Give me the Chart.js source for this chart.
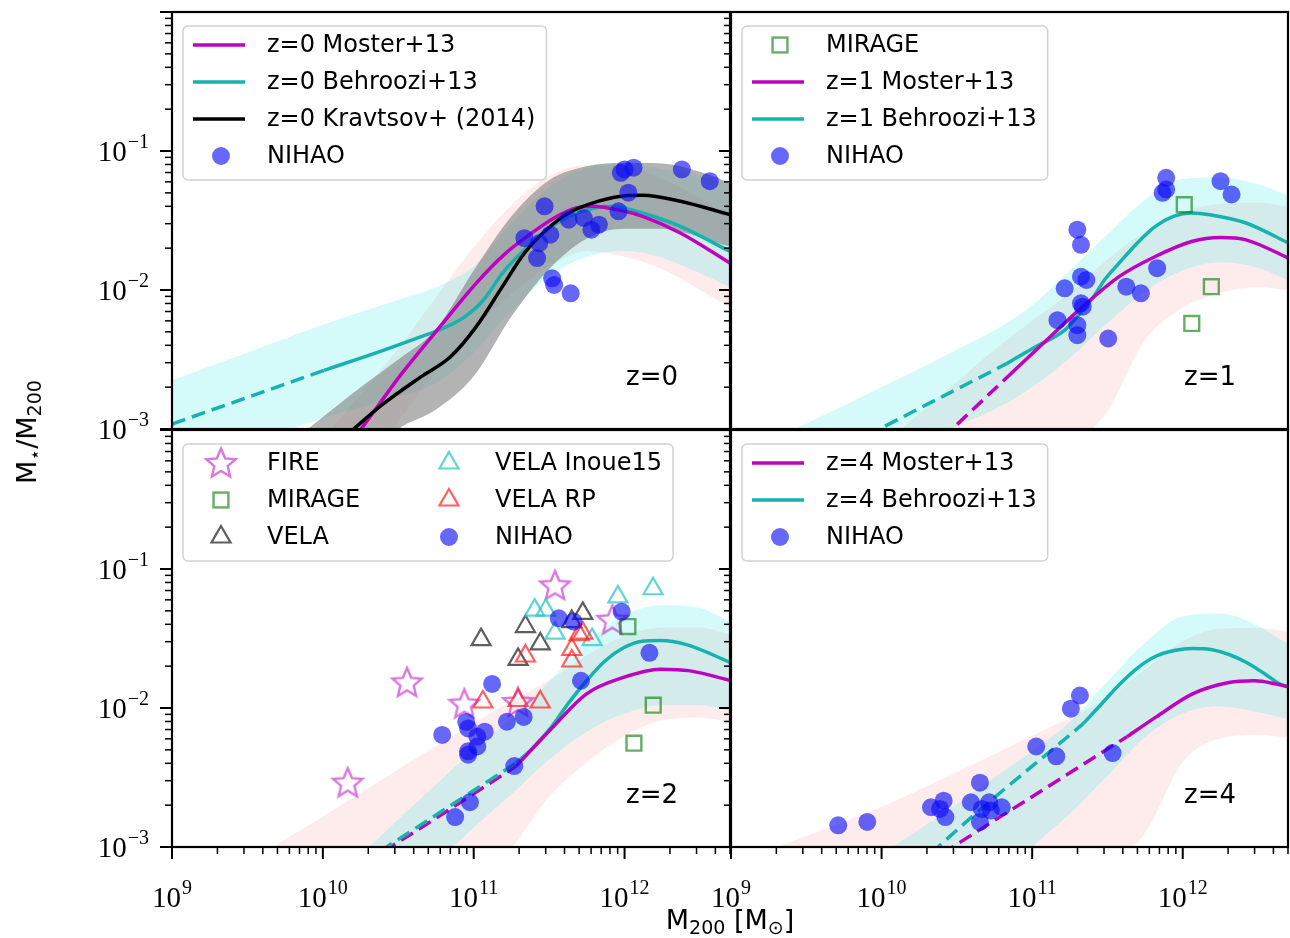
<!DOCTYPE html>
<html>
<head>
<meta charset="utf-8">
<script src="https://cdn.jsdelivr.net/npm/chart.js@4.4.0/dist/chart.umd.min.js"></script>
<style>
  html, body { margin: 0; padding: 0; background: #fff; }
  #wrap { position: relative; width: 1290px; height: 938px; overflow: hidden; }
  #wrap canvas { position: absolute; left: 0; top: 0; }
  .ttl { position: absolute; font-family: 'DejaVu Sans', sans-serif; font-size: 27px; color: #000; white-space: nowrap; }
  .ttl sub { font-size: 19px; vertical-align: -5px; }
  #ylab { left: 28px; top: 432px; transform: translate(-50%, -50%) rotate(-90deg); }
  #xlab { left: 730px; top: 921px; transform: translate(-50%, -50%); }
</style>
</head>
<body>
<div id="wrap">
  <canvas id="c0" width="1290" height="938"></canvas>
  <canvas id="c1" width="1290" height="938"></canvas>
  <canvas id="c2" width="1290" height="938"></canvas>
  <canvas id="c3" width="1290" height="938"></canvas>
  <div class="ttl" id="ylab">M<sub>⋆</sub>/M<sub>200</sub></div>
  <div class="ttl" id="xlab">M<sub>200</sub> [M<sub>⊙</sub>]</div>
</div>
<script>
// all values are log10(M200 / Msun), log10(M* / M200)
const MASS_MIN = 1e9, MASS_MAX = 5e12;
const FRAC_MIN = 1e-3, FRAC_MAX = 1;

// ---- z = 0 ----
const mosterZ0 = [[10.15,-3.15],[10.254,-3.0],[10.524,-2.60],[10.795,-2.24],[11.016,-1.952],[11.213,-1.735],[11.385,-1.59],[11.533,-1.482],[11.68,-1.41],[11.78,-1.398],[12.0,-1.434],[12.12,-1.47],[12.37,-1.59],[12.70,-1.807]];
const behrooziZ0Dash = [[9.0,-2.964],[10.008,-2.578]];
const behrooziZ0 = [[10.008,-2.578],[10.40,-2.434],[10.647,-2.337],[10.795,-2.277],[10.94,-2.193],[11.065,-2.072],[11.19,-1.88],[11.336,-1.711],[11.483,-1.566],[11.63,-1.47],[11.78,-1.417],[11.877,-1.398],[12.0,-1.41],[12.12,-1.446],[12.37,-1.542],[12.70,-1.723]];
const kravtsovZ0 = [[10.1,-3.1],[10.205,-3.0],[10.40,-2.82],[10.647,-2.627],[10.844,-2.482],[11.016,-2.265],[11.19,-1.976],[11.336,-1.735],[11.483,-1.566],[11.63,-1.446],[11.828,-1.361],[12.025,-1.32],[12.12,-1.318],[12.37,-1.361],[12.70,-1.458]];
// bands: [logM, low, high]
const mosterBandZ0 = [[9.9,-3.85,-3.2],[10.25,-3.3,-2.75],[10.5,-2.95,-2.42],[10.75,-2.58,-2.05],[11.0,-2.28,-1.69],[11.25,-2.03,-1.39],[11.5,-1.83,-1.18],[11.75,-1.72,-1.10],[12.0,-1.76,-1.11],[12.25,-1.85,-1.2],[12.5,-2.0,-1.34],[12.7,-2.13,-1.48]];
const behrooziBandZ0 = [[9.0,-3.35,-2.65],[9.5,-3.12,-2.45],[10.0,-2.92,-2.25],[10.5,-2.77,-2.07],[10.75,-2.67,-1.98],[11.0,-2.45,-1.83],[11.25,-2.15,-1.52],[11.5,-1.9,-1.26],[11.75,-1.76,-1.12],[12.0,-1.72,-1.09],[12.25,-1.77,-1.13],[12.5,-1.88,-1.18],[12.7,-1.98,-1.23]];
const kravtsovBandZ0 = [[9.9,-3.5,-3.0],[10.25,-3.25,-2.70],[10.5,-3.0,-2.50],[10.75,-2.86,-2.28],[11.0,-2.62,-1.86],[11.25,-2.19,-1.47],[11.5,-1.85,-1.21],[11.75,-1.63,-1.11],[12.0,-1.56,-1.085],[12.25,-1.56,-1.09],[12.5,-1.62,-1.15],[12.7,-1.69,-1.23]];
const nihaoZ0 = [[11.47,-1.398],[11.336,-1.627],[11.434,-1.663],[11.42,-1.77],[11.508,-1.602],[11.63,-1.494],[11.73,-1.482],[11.78,-1.566],[11.83,-1.53],[11.96,-1.434],[11.975,-1.157],[12.0,-1.133],[12.06,-1.12],[12.025,-1.30],[11.52,-1.916],[11.533,-1.964],[11.643,-2.024],[12.38,-1.133],[12.565,-1.217]];

// ---- z = 1 ----
const mosterZ1Dash = [[10.40,-3.07],[10.469,-3.0],[10.806,-2.656]];
const mosterZ1 = [[10.806,-2.656],[11.095,-2.361],[11.336,-2.12],[11.577,-1.904],[11.818,-1.759],[12.059,-1.651],[12.25,-1.622],[12.42,-1.639],[12.704,-1.771]];
const behrooziZ1Dash = [[9.9,-3.05],[9.987,-3.0],[10.83,-2.53]];
const behrooziZ1 = [[10.83,-2.53],[11.02,-2.41],[11.216,-2.289],[11.336,-2.145],[11.408,-2.048],[11.48,-1.928],[11.577,-1.807],[11.697,-1.663],[11.818,-1.542],[11.938,-1.47],[12.059,-1.446],[12.18,-1.458],[12.42,-1.518],[12.704,-1.663]];
const mosterBandZ1 = [[10.0,-4.3,-3.12],[10.5,-3.8,-2.66],[10.75,-3.55,-2.43],[11.0,-3.35,-2.22],[11.25,-3.15,-2.02],[11.5,-2.87,-1.78],[11.75,-2.36,-1.58],[12.0,-2.13,-1.44],[12.25,-2.02,-1.38],[12.5,-1.98,-1.37],[12.7,-2.0,-1.40]];
const behrooziBandZ1 = [[9.0,-3.8,-3.22],[9.5,-3.52,-2.96],[10.0,-3.25,-2.70],[10.5,-2.98,-2.43],[10.75,-2.86,-2.29],[11.0,-2.70,-2.11],[11.25,-2.49,-1.86],[11.5,-2.24,-1.60],[11.75,-2.01,-1.35],[12.0,-1.86,-1.20],[12.25,-1.80,-1.19],[12.5,-1.84,-1.24],[12.7,-1.93,-1.32]];
const mirageZ1 = [[12.01,-1.386],[12.19,-1.976],[12.06,-2.241]];
const nihaoZ1 = [[11.30,-1.566],[11.324,-1.675],[11.324,-1.904],[11.36,-1.928],[11.216,-1.988],[11.324,-2.096],[11.336,-2.12],[11.168,-2.217],[11.30,-2.253],[11.30,-2.325],[11.505,-2.349],[11.625,-1.976],[11.722,-2.024],[11.83,-1.843],[11.89,-1.193],[11.866,-1.301],[11.89,-1.277],[12.251,-1.217],[12.324,-1.313]];

// ---- z = 2 ----
const mosterZ2Dash = [[10.40,-3.03],[10.447,-3.0],[11.282,-2.418]];
const mosterZ2 = [[11.282,-2.418],[11.527,-2.135],[11.748,-1.898],[11.993,-1.78],[12.238,-1.721],[12.435,-1.733],[12.705,-1.804]];
const behrooziZ2Dash = [[10.38,-3.03],[10.423,-3.0],[11.282,-2.395]];
const behrooziZ2 = [[11.282,-2.395],[11.38,-2.30],[11.50,-2.158],[11.625,-1.97],[11.748,-1.804],[11.87,-1.662],[11.993,-1.567],[12.116,-1.52],[12.238,-1.515],[12.41,-1.544],[12.705,-1.674]];
const mosterBandZ2 = [[9.5,-4.4,-3.11],[10.0,-4.0,-2.78],[10.5,-3.65,-2.44],[11.0,-3.3,-2.11],[11.25,-3.01,-1.95],[11.5,-2.64,-1.80],[11.75,-2.39,-1.62],[12.0,-2.20,-1.48],[12.25,-2.09,-1.42],[12.5,-2.07,-1.42],[12.7,-2.10,-1.47]];
const behrooziBandZ2 = [[10.0,-3.9,-3.2],[10.3,-3.6,-3.0],[10.5,-3.4,-2.8],[10.75,-3.12,-2.55],[11.0,-2.86,-2.3],[11.25,-2.62,-2.07],[11.5,-2.37,-1.81],[11.75,-2.17,-1.53],[12.0,-2.04,-1.33],[12.25,-1.98,-1.26],[12.5,-1.98,-1.28],[12.7,-2.02,-1.38]];
const fireZ2 = [[10.165,-2.537],[10.558,-1.816],[10.938,-1.969],[11.294,-1.957],[11.539,-1.118],[11.919,-1.366]];
const mirageZ2 = [[12.022,-1.414],[12.19,-1.98],[12.062,-2.253]];
const velaZ2 = [[11.049,-1.508],[11.343,-1.414],[11.441,-1.539],[11.294,-1.65],[11.65,-1.378],[11.723,-1.319]];
const velaInoueZ2 = [[11.404,-1.296],[11.478,-1.296],[11.539,-1.461],[11.785,-1.508],[11.956,-1.201],[12.189,-1.142]];
const velaRpZ2 = [[11.061,-1.957],[11.294,-1.946],[11.441,-1.957],[11.343,-1.626],[11.65,-1.579],[11.65,-1.662],[11.699,-1.473],[11.723,-1.461]];
const nihaoZ2 = [[10.791,-2.194],[10.95,-2.10],[10.963,-2.147],[11.024,-2.206],[11.073,-2.17],[11.024,-2.277],[10.963,-2.312],[10.963,-2.336],[11.122,-1.827],[11.22,-2.099],[11.331,-2.064],[11.269,-2.418],[10.975,-2.678],[10.877,-2.785],[11.564,-1.355],[11.662,-1.378],[11.711,-1.804],[11.981,-1.307],[12.165,-1.603]];

// ---- z = 4 ----
const mosterZ4Dash = [[10.40,-3.05],[10.472,-3.0],[11.631,-2.206]];
const mosterZ4 = [[11.631,-2.206],[11.824,-2.064],[12.065,-1.898],[12.307,-1.816],[12.476,-1.804],[12.62,-1.827],[12.712,-1.851]];
const behrooziZ4Dash = [[10.33,-3.05],[10.376,-3.0],[11.341,-2.111]];
const behrooziZ4 = [[11.341,-2.111],[11.462,-1.969],[11.583,-1.827],[11.703,-1.709],[11.824,-1.626],[11.945,-1.586],[12.065,-1.572],[12.186,-1.579],[12.307,-1.615],[12.427,-1.674],[12.548,-1.757],[12.645,-1.827],[12.712,-1.851]];
const mosterBandZ4 = [[9.0,-4.5,-3.13],[9.5,-4.2,-2.92],[10.0,-3.9,-2.71],[10.5,-3.6,-2.46],[11.0,-3.4,-2.20],[11.25,-3.3,-2.07],[11.5,-3.15,-1.93],[11.75,-2.90,-1.72],[12.0,-2.39,-1.52],[12.25,-2.22,-1.43],[12.5,-2.195,-1.425],[12.7,-2.215,-1.45]];
const behrooziBandZ4 = [[10.0,-3.85,-3.05],[10.5,-3.5,-2.69],[10.75,-3.25,-2.50],[11.0,-3.0,-2.31],[11.25,-2.76,-2.10],[11.5,-2.49,-1.81],[11.75,-2.21,-1.53],[12.0,-2.04,-1.34],[12.25,-1.99,-1.32],[12.5,-2.03,-1.41],[12.7,-2.08,-1.54]];
const nihaoZ4 = [[9.712,-2.844],[9.905,-2.82],[10.328,-2.714],[10.412,-2.667],[10.388,-2.726],[10.424,-2.785],[10.593,-2.678],[10.653,-2.537],[10.665,-2.726],[10.714,-2.678],[10.726,-2.738],[10.798,-2.714],[10.653,-2.82],[11.027,-2.277],[11.16,-2.348],[11.257,-2.005],[11.317,-1.91],[11.534,-2.324]];

// ---- styles ----
const W = 1290, H = 938;
const C_MOSTER = '#bf00bf', C_BEHROOZI = '#16b3ae', C_KRAV = '#000000';
const BAND_MOSTER = 'rgba(240,0,0,0.075)', BAND_BEHROOZI = 'rgba(0,225,225,0.17)', BAND_KRAV = 'rgba(128,128,128,0.6)';
const LEG_FONT = '24px "DejaVu Sans", sans-serif';
const Z_FONT = '26px "DejaVu Sans", sans-serif';
const TICK_FONT = '29px "Liberation Serif", serif';
const EXP_FONT = '20px "Liberation Serif", serif';

function starImage(color) {
  const c = document.createElement('canvas');
  c.width = c.height = 36;
  const g = c.getContext('2d');
  g.strokeStyle = color; g.lineWidth = 2.4; g.lineJoin = 'miter';
  g.beginPath();
  for (let i = 0; i < 10; i++) {
    const r = i % 2 ? 7 : 15.5;
    const ang = -Math.PI / 2 + i * Math.PI / 5;
    const px = 18 + r * Math.cos(ang), py = 19 + r * Math.sin(ang);
    i ? g.lineTo(px, py) : g.moveTo(px, py);
  }
  g.closePath(); g.stroke();
  return c;
}

const MARK = {
  'NIHAO':        { pointStyle: 'circle', pointRadius: 9, pointBackgroundColor: 'rgba(10,10,245,0.62)', pointBorderColor: 'rgba(0,0,0,0)', pointBorderWidth: 0, order: 1 },
  'VELA RP':      { pointStyle: 'triangle', pointRadius: 11, pointBackgroundColor: 'rgba(0,0,0,0)', pointBorderColor: 'rgba(255,30,30,0.7)', pointBorderWidth: 2.2, order: 2 },
  'VELA Inoue15': { pointStyle: 'triangle', pointRadius: 11, pointBackgroundColor: 'rgba(0,0,0,0)', pointBorderColor: 'rgba(40,200,200,0.75)', pointBorderWidth: 2.2, order: 3 },
  'VELA':         { pointStyle: 'triangle', pointRadius: 11, pointBackgroundColor: 'rgba(0,0,0,0)', pointBorderColor: 'rgba(40,40,40,0.75)', pointBorderWidth: 2.2, order: 4 },
  'MIRAGE':       { pointStyle: 'rect', pointRadius: 10.5, pointBackgroundColor: 'rgba(0,0,0,0)', pointBorderColor: 'rgba(0,120,0,0.6)', pointBorderWidth: 2.4, order: 5 },
  'FIRE':         { pointStyle: starImage('rgba(190,30,200,0.6)'), pointRadius: 15, pointBackgroundColor: 'rgba(0,0,0,0)', pointBorderColor: 'rgba(190,30,200,0.6)', pointBorderWidth: 2, order: 6 }
};

const pts = arr => arr.map(([m, f]) => ({ x: 10 ** m, y: 10 ** f }));

function markerSet(label, data) {
  return Object.assign({ label, data: pts(data), showLine: false, inLegend: true }, MARK[label]);
}
function lineSet(label, data, color, dashed, order) {
  return {
    label, data: pts(data), borderColor: color, borderWidth: 3.5, borderDash: dashed ? [14, 7] : [],
    pointRadius: 0, fill: false, order, cubicInterpolationMode: 'monotone', inLegend: !dashed
  };
}
function addBand(list, band, color, order) {
  const lo = list.length;
  list.push({ data: pts(band.map(b => [b[0], b[1]])), borderColor: 'rgba(0,0,0,0)', borderWidth: 0, pointRadius: 0, fill: false, order, cubicInterpolationMode: 'monotone' });
  list.push({ data: pts(band.map(b => [b[0], b[2]])), borderColor: 'rgba(0,0,0,0)', borderWidth: 0, pointRadius: 0, fill: { target: lo }, backgroundColor: color, order, cubicInterpolationMode: 'monotone' });
}

function legendMarker(ctx, d, x, y) {
  const st = d.pointStyle, r = d.pointRadius;
  ctx.save();
  ctx.fillStyle = d.pointBackgroundColor; ctx.strokeStyle = d.pointBorderColor; ctx.lineWidth = d.pointBorderWidth;
  if (typeof st === 'object') {
    ctx.drawImage(st, x - st.width / 2, y - st.height / 2);
  } else if (st === 'circle') {
    ctx.beginPath(); ctx.arc(x, y, r, 0, Math.PI * 2); ctx.fill();
  } else if (st === 'rect') {
    const s = r * Math.SQRT1_2;
    ctx.strokeRect(x - s, y - s, 2 * s, 2 * s);
  } else if (st === 'triangle') {
    ctx.beginPath();
    for (let i = 0; i < 3; i++) {
      const ang = i * 2 * Math.PI / 3;
      const px = x + Math.sin(ang) * r, py = y - Math.cos(ang) * r;
      i ? ctx.lineTo(px, py) : ctx.moveTo(px, py);
    }
    ctx.closePath(); ctx.stroke();
  }
  ctx.restore();
}

function roundRectPath(ctx, x0, y0, x1, y1, rad) {
  ctx.beginPath();
  ctx.moveTo(x0 + rad, y0);
  ctx.arcTo(x1, y0, x1, y1, rad);
  ctx.arcTo(x1, y1, x0, y1, rad);
  ctx.arcTo(x0, y1, x0, y0, rad);
  ctx.arcTo(x0, y0, x1, y0, rad);
  ctx.closePath();
}

function drawLegend(ctx, chart, a, o) {
  const items = o.legend.map(lbl => chart.data.datasets.find(d => d.label === lbl && d.inLegend));
  const rows = Math.ceil(items.length / o.cols);
  const rowH = 37, firstY = a.top + 33;
  ctx.font = LEG_FONT;
  let right = 0;
  items.forEach((d, i) => {
    const c = Math.floor(i / rows);
    right = Math.max(right, a.left + 95 + c * o.colStep + ctx.measureText(d.label).width);
  });
  roundRectPath(ctx, a.left + 11, firstY - 19, right + 11, firstY + (rows - 1) * rowH + 24, 5);
  ctx.fillStyle = 'rgba(255,255,255,0.8)'; ctx.fill();
  ctx.strokeStyle = '#d2d2d2'; ctx.lineWidth = 1.5; ctx.stroke();
  items.forEach((d, i) => {
    const c = Math.floor(i / rows), r = i % rows;
    const cx = a.left + c * o.colStep, cy = firstY + r * rowH;
    if (d.showLine === false) {
      legendMarker(ctx, d, cx + 49, cy);
    } else {
      ctx.strokeStyle = d.borderColor; ctx.lineWidth = d.borderWidth; ctx.setLineDash([]);
      ctx.beginPath(); ctx.moveTo(cx + 21, cy); ctx.lineTo(cx + 73, cy); ctx.stroke();
    }
    ctx.fillStyle = '#000'; ctx.font = LEG_FONT; ctx.textAlign = 'left'; ctx.textBaseline = 'middle';
    ctx.fillText(d.label, cx + 95, cy + 1);
  });
}

function drawPow(ctx, exp, x, baseline, align) {
  ctx.font = TICK_FONT; const w1 = ctx.measureText('10').width;
  ctx.font = EXP_FONT; const w2 = ctx.measureText(exp).width;
  const left = align === 'right' ? x - w1 - w2 - 1 : x - (w1 + w2 + 1) / 2;
  ctx.fillStyle = '#000'; ctx.textAlign = 'left'; ctx.textBaseline = 'alphabetic';
  ctx.font = TICK_FONT; ctx.fillText('10', left, baseline);
  ctx.font = EXP_FONT; ctx.fillText(exp, left + w1 + 1, baseline - 13);
}

const deco = {
  id: 'deco',
  afterDatasetsDraw(chart, args, o) {
    const ctx = chart.ctx, a = chart.chartArea, xs = chart.scales.x, ys = chart.scales.y;
    ctx.save();
    drawLegend(ctx, chart, a, o);
    ctx.font = Z_FONT; ctx.fillStyle = '#000'; ctx.textAlign = 'right'; ctx.textBaseline = 'middle';
    ctx.fillText(o.zText, a.right - 52, a.top + 366);
    ctx.strokeStyle = '#000'; ctx.lineWidth = 2.2; ctx.setLineDash([]);
    ctx.strokeRect(a.left, a.top, a.right - a.left, a.bottom - a.top);
    // y ticks (outward, left side)
    for (let e = -3; e <= 0; e++) {
      for (let m = 1; m <= 9; m++) {
        const v = m * 10 ** e;
        if (v > FRAC_MAX * 1.0001) continue;
        const py = ys.getPixelForValue(v), len = m === 1 ? 12 : 7;
        ctx.lineWidth = m === 1 ? 2 : 1.5;
        ctx.beginPath(); ctx.moveTo(a.left - len, py); ctx.lineTo(a.left, py); ctx.stroke();
      }
      if (o.yLabels && e < 0) drawPow(ctx, '\u2212' + (-e), a.left - 23, ys.getPixelForValue(10 ** e) + 10, 'right');
    }
    // x ticks (outward, bottom side)
    if (o.xTicks) {
      for (let e = 9; e <= 12; e++) {
        for (let m = 1; m <= 9; m++) {
          const v = m * 10 ** e;
          if (v > MASS_MAX * 1.0001) continue;
          const px = xs.getPixelForValue(v), len = m === 1 ? 12 : 7;
          ctx.strokeStyle = '#000'; ctx.lineWidth = m === 1 ? 2 : 1.5;
          ctx.beginPath(); ctx.moveTo(px, a.bottom); ctx.lineTo(px, a.bottom + len); ctx.stroke();
        }
        drawPow(ctx, String(e), xs.getPixelForValue(10 ** e), a.bottom + 60, 'center');
      }
    }
    ctx.restore();
  }
};

function makePanel(id, box, datasets, opts) {
  return new Chart(document.getElementById(id), {
    type: 'line',
    data: { datasets },
    options: {
      responsive: false, animation: false, events: [], devicePixelRatio: 1,
      layout: { autoPadding: false, padding: { left: box[0], top: box[1], right: W - box[2], bottom: H - box[3] } },
      scales: {
        x: { type: 'logarithmic', min: MASS_MIN, max: MASS_MAX, display: false },
        y: { type: 'logarithmic', min: FRAC_MIN, max: FRAC_MAX, display: false }
      },
      plugins: { legend: { display: false }, tooltip: { enabled: false }, deco: opts }
    },
    plugins: [deco]
  });
}

// panel z=0
const d0 = [];
addBand(d0, mosterBandZ0, BAND_MOSTER, 50);
addBand(d0, behrooziBandZ0, BAND_BEHROOZI, 40);
addBand(d0, kravtsovBandZ0, BAND_KRAV, 30);
d0.push(lineSet('z=0 Moster+13', mosterZ0, C_MOSTER, false, 20));
d0.push(lineSet('z=0 Behroozi+13', behrooziZ0, C_BEHROOZI, false, 21));
d0.push(lineSet('z=0 Behroozi+13', behrooziZ0Dash, C_BEHROOZI, true, 21));
d0.push(lineSet('z=0 Kravtsov+ (2014)', kravtsovZ0, C_KRAV, false, 19));
d0.push(markerSet('NIHAO', nihaoZ0));
makePanel('c0', [172, 12, 730, 429], d0, { zText: 'z=0', yLabels: true, xTicks: false, cols: 1, colStep: 0,
  legend: ['z=0 Moster+13', 'z=0 Behroozi+13', 'z=0 Kravtsov+ (2014)', 'NIHAO'] });

// panel z=1
const d1 = [];
addBand(d1, mosterBandZ1, BAND_MOSTER, 50);
addBand(d1, behrooziBandZ1, BAND_BEHROOZI, 40);
d1.push(lineSet('z=1 Moster+13', mosterZ1, C_MOSTER, false, 20));
d1.push(lineSet('z=1 Moster+13', mosterZ1Dash, C_MOSTER, true, 20));
d1.push(lineSet('z=1 Behroozi+13', behrooziZ1, C_BEHROOZI, false, 21));
d1.push(lineSet('z=1 Behroozi+13', behrooziZ1Dash, C_BEHROOZI, true, 21));
d1.push(markerSet('MIRAGE', mirageZ1));
d1.push(markerSet('NIHAO', nihaoZ1));
makePanel('c1', [731, 12, 1288, 429], d1, { zText: 'z=1', yLabels: false, xTicks: false, cols: 1, colStep: 0,
  legend: ['MIRAGE', 'z=1 Moster+13', 'z=1 Behroozi+13', 'NIHAO'] });

// panel z=2
const d2 = [];
addBand(d2, mosterBandZ2, BAND_MOSTER, 50);
addBand(d2, behrooziBandZ2, BAND_BEHROOZI, 40);
d2.push(lineSet('z=2 Moster+13', mosterZ2, C_MOSTER, false, 20));
d2.push(lineSet('z=2 Moster+13', mosterZ2Dash, C_MOSTER, true, 20));
d2.push(lineSet('z=2 Behroozi+13', behrooziZ2, C_BEHROOZI, false, 21));
d2.push(lineSet('z=2 Behroozi+13', behrooziZ2Dash, C_BEHROOZI, true, 19));
d2.push(markerSet('FIRE', fireZ2));
d2.push(markerSet('MIRAGE', mirageZ2));
d2.push(markerSet('VELA', velaZ2));
d2.push(markerSet('VELA Inoue15', velaInoueZ2));
d2.push(markerSet('VELA RP', velaRpZ2));
d2.push(markerSet('NIHAO', nihaoZ2));
makePanel('c2', [172, 430, 730, 847], d2, { zText: 'z=2', yLabels: true, xTicks: true, cols: 2, colStep: 228,
  legend: ['FIRE', 'MIRAGE', 'VELA', 'VELA Inoue15', 'VELA RP', 'NIHAO'] });

// panel z=4
const d3 = [];
addBand(d3, mosterBandZ4, BAND_MOSTER, 50);
addBand(d3, behrooziBandZ4, BAND_BEHROOZI, 40);
d3.push(lineSet('z=4 Moster+13', mosterZ4, C_MOSTER, false, 20));
d3.push(lineSet('z=4 Moster+13', mosterZ4Dash, C_MOSTER, true, 20));
d3.push(lineSet('z=4 Behroozi+13', behrooziZ4, C_BEHROOZI, false, 21));
d3.push(lineSet('z=4 Behroozi+13', behrooziZ4Dash, C_BEHROOZI, true, 21));
d3.push(markerSet('NIHAO', nihaoZ4));
makePanel('c3', [731, 430, 1288, 847], d3, { zText: 'z=4', yLabels: false, xTicks: true, cols: 1, colStep: 0,
  legend: ['z=4 Moster+13', 'z=4 Behroozi+13', 'NIHAO'] });
</script>
</body>
</html>
